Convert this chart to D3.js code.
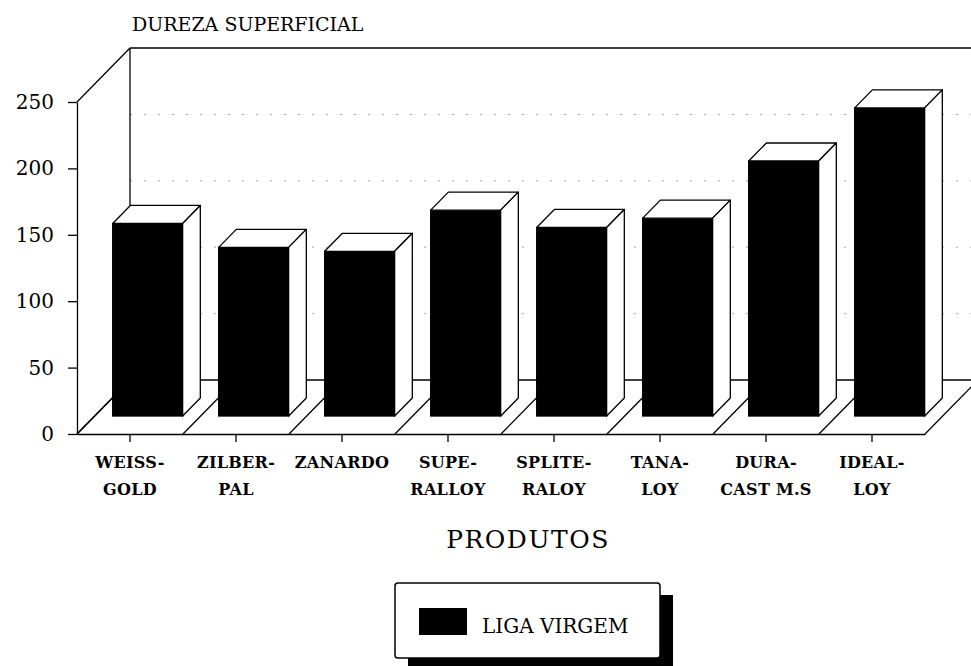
<!DOCTYPE html>
<html>
<head>
<meta charset="utf-8">
<script src="https://cdn.jsdelivr.net/npm/d3@7"></script>
<style>
  body { margin: 0; background: #fff; }
  svg { display: block; }
  text { font-family: "DejaVu Serif", serif; fill: #000; }
</style>
</head>
<body>
<div id="chart"></div>
<script>
// data
const categories = ["WEISS-\nGOLD", "ZILBER-\nPAL", "ZANARDO", "SUPE-\nRALLOY",
                    "SPLITE-\nRALOY", "TANA-\nLOY", "DURA-\nCAST M.S", "IDEAL-\nLOY"];
const values = [145, 127, 124, 155, 142, 149, 192, 232];
const yTicks = [0, 50, 100, 150, 200, 250];
const gridValues = [50, 100, 150, 200];
const seriesName = "LIGA VIRGEM";
const yTitle = "DUREZA SUPERFICIAL";
const xTitle = "PRODUTOS";

function drawBars3d(selector) {
  const width = 971, height = 666;
  const front = { left: 77, right: 925, top: 102, bottom: 434 };
  const dx = 53, dy = 54;   // depth of the box

  d3.select(selector).selectAll("*").remove();
  const svg = d3.select(selector).append("svg")
    .attr("width", width)
    .attr("height", height);

  const x = d3.scaleBand()
    .domain(categories)
    .range([front.left, front.right]);

  const y = d3.scaleLinear()
    .domain([0, 250])
    .range([front.bottom, front.top]);

  const poly = pts => pts.map(p => p.join(",")).join(" ");
  const line = (g, x1, y1, x2, y2) => g.append("line")
    .attr("x1", x1).attr("y1", y1).attr("x2", x2).attr("y2", y2)
    .attr("stroke", "#000").attr("stroke-width", 1.3);

  const walls = svg.append("g").attr("class", "walls");

  // back wall
  line(walls, front.left + dx, y(250) - dy, front.right + dx, y(250) - dy);
  line(walls, front.left + dx, y(250) - dy, front.left + dx, y(0) - dy);
  line(walls, front.right + dx, y(250) - dy, front.right + dx, y(0) - dy);
  line(walls, front.left + dx, y(0) - dy, front.right + dx, y(0) - dy);

  // dotted grid on the back wall (very faint in the original)
  walls.selectAll(".grid")
    .data(gridValues)
    .enter()
    .append("line")
    .attr("class", "grid")
    .attr("x1", front.left + dx)
    .attr("x2", front.right + dx)
    .attr("y1", d => y(d) - dy)
    .attr("y2", d => y(d) - dy)
    .attr("stroke", "#000")
    .attr("stroke-width", 1)
    .attr("stroke-dasharray", "2,12")
    .attr("opacity", 0.35);

  // left wall diagonals
  line(walls, front.left, y(250), front.left + dx, y(250) - dy);
  line(walls, front.left, y(0), front.left + dx, y(0) - dy);

  // floor separators
  const bounds = categories.map(c => x(c)).concat([front.right]);
  walls.selectAll(".sep")
    .data(bounds)
    .enter()
    .append("line")
    .attr("class", "sep")
    .attr("x1", d => d)
    .attr("y1", y(0))
    .attr("x2", d => d + dx)
    .attr("y2", y(0) - dy)
    .attr("stroke", "#000")
    .attr("stroke-width", 1.3);

  // axes
  const yAxis = svg.append("g")
    .attr("transform", `translate(${front.left},0)`)
    .call(d3.axisLeft(y).tickValues(yTicks).tickSize(9).tickSizeOuter(0).tickPadding(14));
  yAxis.selectAll("text")
    .attr("font-family", "DejaVu Serif")
    .attr("font-size", 20);

  svg.append("g")
    .attr("transform", `translate(0,${front.bottom})`)
    .call(d3.axisBottom(x).tickSize(8).tickSizeOuter(0).tickFormat(() => ""));

  svg.selectAll(".domain, .tick line")
    .attr("stroke", "#000")
    .attr("stroke-width", 1.3);

  // bars
  const bw = x.bandwidth();
  const barW = bw * 0.66;
  const ox = dx / 3, oy = dy / 3;

  const bars = svg.selectAll(".bar")
    .data(categories.map((c, i) => ({ cat: c, value: values[i] })))
    .enter()
    .append("g")
    .attr("class", "bar");

  bars.each(function(d) {
    const g = d3.select(this);
    const x0 = x(d.cat) + (bw - barW) / 2 + ox;
    const x1 = x0 + barW;
    const yb = y(0) - oy;
    const yt = y(d.value) - oy;

    g.append("rect")
      .attr("x", x0).attr("y", yt)
      .attr("width", barW).attr("height", yb - yt)
      .attr("fill", "#000").attr("stroke", "#000").attr("stroke-width", 1.3);

    g.append("polygon")
      .attr("points", poly([[x0, yt], [x1, yt], [x1 + ox, yt - oy], [x0 + ox, yt - oy]]))
      .attr("fill", "#fff").attr("stroke", "#000").attr("stroke-width", 1.3)
      .attr("stroke-linejoin", "round");

    g.append("polygon")
      .attr("points", poly([[x1, yt], [x1 + ox, yt - oy], [x1 + ox, yb - oy], [x1, yb]]))
      .attr("fill", "#fff").attr("stroke", "#000").attr("stroke-width", 1.3)
      .attr("stroke-linejoin", "round");
  });

  // category labels (two lines)
  const labels = svg.selectAll(".cat-label")
    .data(categories)
    .enter()
    .append("text")
    .attr("class", "cat-label")
    .attr("text-anchor", "middle")
    .attr("font-size", 16)
    .attr("font-weight", "bold")
    .attr("letter-spacing", 0.3);

  labels.each(function(c) {
    const t = d3.select(this);
    c.split("\n").forEach((part, i) => {
      t.append("tspan")
        .attr("x", x(c) + bw / 2)
        .attr("y", 468 + i * 27)
        .text(part);
    });
  });

  // titles
  svg.append("text")
    .attr("x", 132)
    .attr("y", 31)
    .attr("font-size", 19)
    .text(yTitle);

  svg.append("text")
    .attr("x", 528)
    .attr("y", 548)
    .attr("text-anchor", "middle")
    .attr("font-size", 25)
    .attr("letter-spacing", 1.5)
    .text(xTitle);

  // legend with drop shadow
  const legend = svg.append("g").attr("class", "legend");
  legend.append("rect")
    .attr("x", 408).attr("y", 595)
    .attr("width", 265).attr("height", 75)
    .attr("fill", "#000");
  legend.append("rect")
    .attr("x", 395).attr("y", 583)
    .attr("width", 265).attr("height", 75)
    .attr("rx", 3)
    .attr("fill", "#fff").attr("stroke", "#000").attr("stroke-width", 1.5);
  legend.append("rect")
    .attr("x", 419).attr("y", 608)
    .attr("width", 48).attr("height", 27)
    .attr("fill", "#000");
  legend.append("text")
    .attr("x", 482)
    .attr("y", 633)
    .attr("font-size", 20)
    .text(seriesName);
}

drawBars3d("#chart");
</script>
</body>
</html>
